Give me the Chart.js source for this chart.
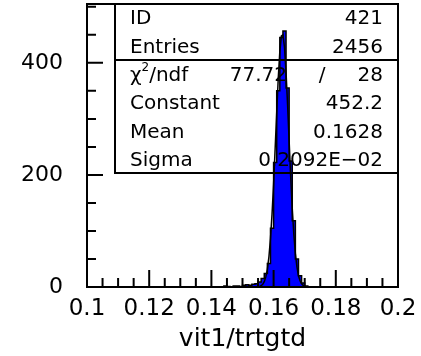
<!DOCTYPE html>
<html>
<head>
<meta charset="utf-8">
<script src="https://cdn.jsdelivr.net/npm/chart.js@4"></script>
<style>
  html, body { margin: 0; padding: 0; background: #fff; }
  #wrap { width: 421px; height: 356px; }
</style>
</head>
<body>
<div id="wrap"><canvas id="hist" width="421" height="356"></canvas></div>
<script>
// histogram bins (low edge) and contents
const binEdges = [0.140, 0.141, 0.142, 0.143, 0.144, 0.145, 0.146, 0.147, 0.148, 0.149,
                  0.150, 0.151, 0.152, 0.153, 0.154, 0.155, 0.156, 0.157, 0.158, 0.159,
                  0.160, 0.161, 0.162, 0.163, 0.164, 0.165, 0.166, 0.167, 0.168, 0.169,
                  0.170, 0.171];
const binCounts = [0, 0, 0, 0, 2, 1, 0, 2, 2, 1,
                   3, 4, 3, 5, 6, 9, 15, 24, 42, 105,
                   222, 350, 445, 457, 355, 225, 118, 50, 20, 7,
                   2, 0];
const binEnd = 0.172;

// gaussian fit curve, sampled from the drawn line
const fitX = [0.1550, 0.1555, 0.1560, 0.1565, 0.1570, 0.1575, 0.1580, 0.1585, 0.1590, 0.1595,
              0.1600, 0.1605, 0.1610, 0.1615, 0.1620, 0.1625, 0.1630, 0.1635, 0.1640, 0.1645,
              0.1650, 0.1655, 0.1660, 0.1665, 0.1670, 0.1675, 0.1680, 0.1685, 0.1690, 0.1695,
              0.1700];
const fitY = [0.4, 1.0, 2.3, 4.8, 9.6, 18, 32, 54, 87, 130,
              184, 247, 312, 373, 420, 448, 450, 428, 383, 325,
              260, 196, 140, 94, 60, 36, 20, 11, 5.6, 2.7,
              1.2];

// axes
const xMajorTicks = [0.1, 0.12, 0.14, 0.16, 0.18, 0.2];
const xTickLabels = ['0.1', '0.12', '0.14', '0.16', '0.18', '0.2'];
const xMinorTicks = [0.105, 0.11, 0.115, 0.125, 0.13, 0.135, 0.145, 0.15, 0.155,
                     0.165, 0.17, 0.175, 0.185, 0.19, 0.195];
const yMajorTicks = [0, 200, 400];
const yTickLabels = ['0', '200', '400'];
const yMinorTicks = [50, 100, 150, 250, 300, 350, 450, 500];
const xTitle = 'vit1/trtgtd';

// statistics box
const statTop = [['ID', '421'], ['Entries', '2456']];
const chi2 = ['77.72', '28'];
const statFit = [['Constant', '452.2'], ['Mean', '0.1628'], ['Sigma', '0.2092E\u221202']];

const FONT = 'DejaVu Sans';

const histData = binEdges.map((x, i) => ({ x: x, y: binCounts[i] }));
histData.push({ x: binEnd, y: 0 });
const fitData = fitX.map((x, i) => ({ x: x, y: fitY[i] }));

const pawFrame = {
    id: 'pawFrame',
    afterDatasetsDraw(chart) {
        const ctx = chart.ctx;
        const a = chart.chartArea;
        const xs = chart.scales.x, ys = chart.scales.y;
        ctx.save();
        ctx.strokeStyle = '#000';
        ctx.lineWidth = 2;
        ctx.lineCap = 'butt';
        // inward tick marks
        ctx.beginPath();
        yMajorTicks.forEach(v => { const y = ys.getPixelForValue(v); ctx.moveTo(a.left, y); ctx.lineTo(a.left + 16, y); });
        yMinorTicks.forEach(v => { const y = ys.getPixelForValue(v); ctx.moveTo(a.left, y); ctx.lineTo(a.left + 9, y); });
        xMajorTicks.forEach(v => { const x = xs.getPixelForValue(v); ctx.moveTo(x, a.bottom); ctx.lineTo(x, a.bottom - 17); });
        xMinorTicks.forEach(v => { const x = xs.getPixelForValue(v); ctx.moveTo(x, a.bottom); ctx.lineTo(x, a.bottom - 9); });
        ctx.stroke();
        // frame
        ctx.strokeRect(a.left, a.top, a.right - a.left, a.bottom - a.top);

        // stats box
        const bx = a.left + 28, by = a.top, bw = a.right - bx, bh = 169;
        ctx.strokeRect(bx, by, bw, bh);
        ctx.beginPath();
        ctx.moveTo(bx, by + 56);
        ctx.lineTo(a.right, by + 56);
        ctx.stroke();

        ctx.fillStyle = '#000';
        ctx.font = '20px "' + FONT + '"';
        ctx.textBaseline = 'middle';
        const lx = bx + 15, rx = a.right - 15;
        const rowY = i => by + 15 + i * 28.4;
        statTop.forEach((r, i) => {
            ctx.textAlign = 'left'; ctx.fillText(r[0], lx, rowY(i));
            ctx.textAlign = 'right'; ctx.fillText(r[1], rx, rowY(i));
        });
        // chi2/ndf row
        const cy = rowY(2);
        ctx.textAlign = 'left';
        ctx.fillText('\u03c7', lx, cy);
        const chiW = ctx.measureText('\u03c7').width;
        ctx.font = '12px "' + FONT + '"';
        ctx.fillText('2', lx + chiW, cy - 8);
        const supW = ctx.measureText('2').width;
        ctx.font = '20px "' + FONT + '"';
        ctx.fillText('/ndf', lx + chiW + supW, cy);
        ctx.textAlign = 'right';
        ctx.fillText(chi2[0], bx + 172, cy);
        ctx.textAlign = 'center';
        ctx.fillText('/', bx + 207, cy);
        ctx.textAlign = 'right';
        ctx.fillText(chi2[1], rx, cy);
        statFit.forEach((r, i) => {
            ctx.textAlign = 'left'; ctx.fillText(r[0], lx, rowY(i + 3));
            ctx.textAlign = 'right'; ctx.fillText(r[1], rx, rowY(i + 3));
        });
        ctx.restore();
    }
};

new Chart(document.getElementById('hist'), {
    type: 'line',
    data: {
        datasets: [
            {
                label: 'histogram',
                data: histData,
                stepped: true,
                backgroundColor: '#0000ff',
                borderColor: '#000',
                borderWidth: 1.5,
                fill: 'origin',
                pointRadius: 0,
                order: 2
            },
            {
                label: 'fit',
                data: fitData,
                borderColor: '#000',
                borderWidth: 1.5,
                fill: false,
                pointRadius: 0,
                tension: 0,
                order: 1
            }
        ]
    },
    options: {
        responsive: false,
        devicePixelRatio: 1,
        animation: false,
        events: [],
        layout: { padding: { top: 4, right: 23, left: 0, bottom: 0 } },
        plugins: {
            legend: { display: false },
            tooltip: { enabled: false },
            title: { display: false }
        },
        scales: {
            x: {
                type: 'linear',
                min: 0.1,
                max: 0.2,
                afterBuildTicks: s => { s.ticks = xMajorTicks.map(v => ({ value: v })); },
                afterFit: s => { s.height = 69; s.paddingLeft = 0; s.paddingRight = 0; s.paddingTop = 0; s.paddingBottom = 0; },
                grid: { display: false, drawTicks: false },
                border: { display: false },
                ticks: {
                    autoSkip: false,
                    maxRotation: 0,
                    padding: 8,
                    color: '#000',
                    font: { family: FONT, size: 23 },
                    callback: (v, i) => xTickLabels[i]
                },
                title: {
                    display: true,
                    text: xTitle,
                    color: '#000',
                    font: { family: FONT, size: 25 },
                    padding: { top: 0, bottom: 2 }
                }
            },
            y: {
                type: 'linear',
                min: 0,
                max: 505,
                afterBuildTicks: s => { s.ticks = yMajorTicks.map(v => ({ value: v })); },
                afterFit: s => { s.width = 87; s.paddingTop = 0; s.paddingBottom = 0; s.paddingLeft = 0; s.paddingRight = 0; },
                grid: { display: false, drawTicks: false },
                border: { display: false },
                ticks: {
                    autoSkip: false,
                    padding: 24,
                    color: '#000',
                    font: { family: FONT, size: 22 },
                    callback: (v, i) => yTickLabels[i]
                }
            }
        }
    },
    plugins: [pawFrame]
});
</script>
</body>
</html>
